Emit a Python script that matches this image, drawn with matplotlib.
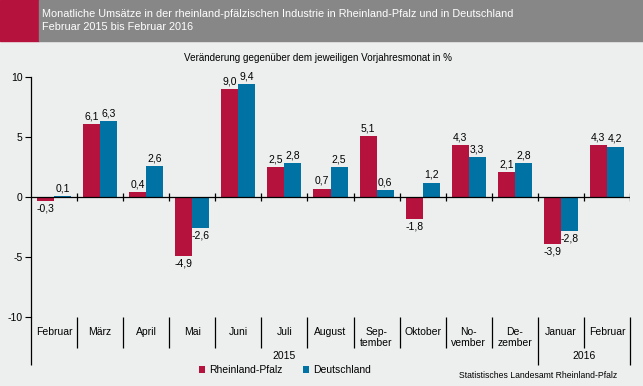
import matplotlib
matplotlib.use("Agg")
import matplotlib.pyplot as plt
from matplotlib.patches import Rectangle

plt.rcParams['font.family'] = ['Liberation Sans', 'DejaVu Sans']

monate = ["Februar", "März", "April", "Mai", "Juni", "Juli", "August", "Sep-\ntember",
          "Oktober", "No-\nvember", "De-\nzember", "Januar", "Februar"]
rlp = [-0.3, 6.1, 0.4, -4.9, 9.0, 2.5, 0.7, 5.1, -1.8, 4.3, 2.1, -3.9, 4.3]
de = [0.1, 6.3, 2.6, -2.6, 9.4, 2.8, 2.5, 0.6, 1.2, 3.3, 2.8, -2.8, 4.2]
jahre = ["2015", "2016"]
jahr_grenzen = [0, 11, 13]

rot = "#B5123E"
blau = "#0072A3"
hg = "#EDEEEE"

W, H = 643, 386
fig = plt.figure(figsize=(W / 100, H / 100), dpi=100, facecolor=hg)
ax = fig.add_axes([31 / W, 1 - 317 / H, (630 - 31) / W, 240 / H])
ax.set_facecolor("none")

# kopf
fig.patches.append(Rectangle((0, 1 - 41 / H), 39 / W, 41 / H, transform=fig.transFigure, color=rot))
fig.patches.append(Rectangle((39 / W, 1 - 41 / H), 1 - 39 / W, 41 / H, transform=fig.transFigure, color="#878787"))
fig.text(42 / W, 1 - 14 / H, "Monatliche Umsätze in der rheinland-pfälzischen Industrie in Rheinland-Pfalz und in Deutschland",
         color="white", fontsize=7.8, va="center")
fig.text(42 / W, 1 - 26.5 / H, "Februar 2015 bis Februar 2016", color="white", fontsize=7.8, va="center")
fig.text(318 / W, 1 - 58 / H, "Veränderung gegenüber dem jeweiligen Vorjahresmonat in %", fontsize=7.1,
         ha="center", va="center")

n = len(monate)
bw = 0.37
xs = [i + 0.5 for i in range(n)]
ax.bar([x - bw / 2 for x in xs], rlp, bw, color=rot, label="Rheinland-Pfalz", zorder=2)
ax.bar([x + bw / 2 for x in xs], de, bw, color=blau, label="Deutschland", zorder=2)

def fmt(v):
    return ("%.1f" % v).replace(".", ",")

for x, a, b in zip(xs, rlp, de):
    for xx, v in ((x - bw / 2, a), (x + bw / 2, b)):
        if v >= 0:
            ax.annotate(fmt(v), (xx, v), xytext=(0, 2), textcoords="offset points",
                        ha="center", va="bottom", fontsize=7.5)
        else:
            ax.annotate(fmt(v), (xx, v), xytext=(0, -2), textcoords="offset points",
                        ha="center", va="top", fontsize=7.5)

ax.set_xlim(0, n)
ax.set_ylim(-10, 10)
ax.set_yticks([-10, -5, 0, 5, 10])
ax.set_yticklabels(["-10", "-5", "0", "5", "10"])
ax.tick_params(axis="y", length=4, width=0.8, labelsize=7.5, pad=2)
ax.set_xticks([])
for s in ["top", "right", "bottom"]:
    ax.spines[s].set_visible(False)
ax.spines["left"].set_linewidth(0.9)

# nulllinie mit ticks
ax.axhline(0, color="black", lw=0.9, zorder=3)
ax.vlines(range(1, n + 1), -0.35, 0.35, color="black", lw=0.9, zorder=3)

# trennlinien unter der achse
tr = ax.get_xaxis_transform()
ax.vlines([i for i in range(1, n + 1) if i not in jahr_grenzen], -31 / 240, 0, transform=tr,
          color="black", lw=0.9, clip_on=False)
ax.vlines(jahr_grenzen, -48 / 240, 0, transform=tr, color="black", lw=0.9, clip_on=False)

for x, m in zip(xs, monate):
    ax.text(x, -10 / 240, m, transform=tr, ha="center", va="top", fontsize=7.5, linespacing=1.1)
for j, (a, b) in enumerate(zip(jahr_grenzen[:-1], jahr_grenzen[1:])):
    ax.text((a + b) / 2, -39 / 240, jahre[j], transform=tr, ha="center", va="center", fontsize=7.5)

leg = fig.legend(loc="center", bbox_to_anchor=(285 / W, 1 - 370 / H), ncol=2, frameon=False,
                 fontsize=7.5, handlelength=0.6, handleheight=0.6, handletextpad=0.4, columnspacing=2.0)

fig.text(617 / W, 1 - 376 / H, "Statistisches Landesamt Rheinland-Pfalz", fontsize=6.2, ha="right", va="center")

fig.savefig("out.png", dpi=100, facecolor=hg)
